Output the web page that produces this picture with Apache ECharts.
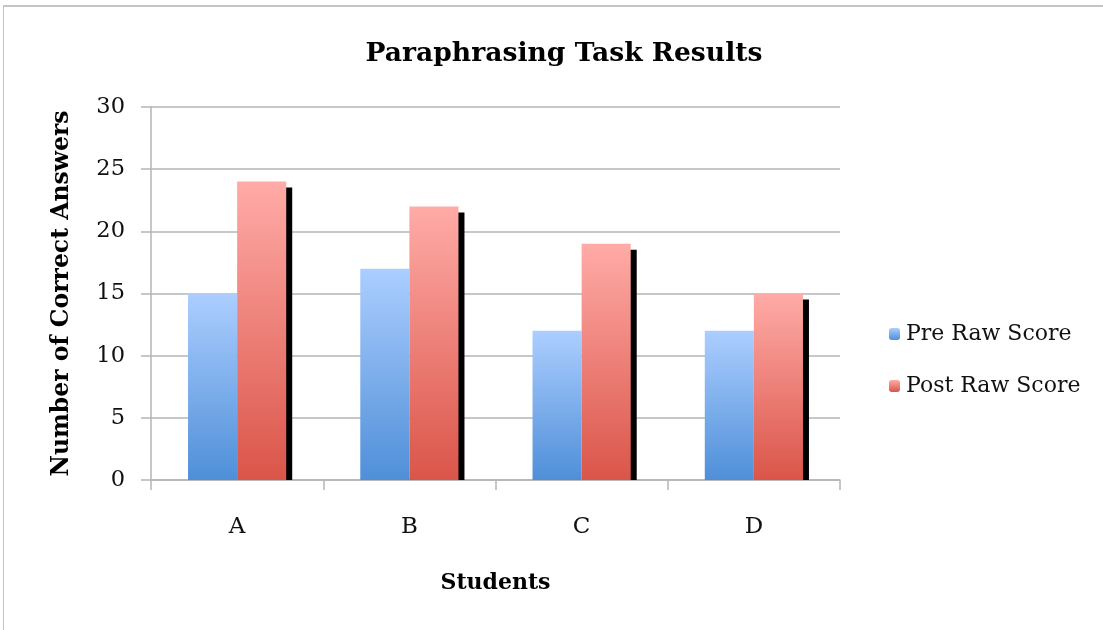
<!DOCTYPE html>
<html>
<head>
<meta charset="utf-8">
<script src="https://cdn.jsdelivr.net/npm/echarts@6/dist/echarts.min.js"></script>
<style>
  html, body { margin: 0; padding: 0; background: #fff; }
  #frame { position: absolute; left: 3px; top: 5px; width: 1100px; height: 625px;
           border-top: 2px solid #c4c4c4; border-left: 1px solid #c4c4c4; }
  #chart { position: absolute; left: 0; top: 0; width: 1103px; height: 630px; }
</style>
</head>
<body>
<div id="frame"></div>
<div id="chart"></div>
<script>
// Paraphrasing task: correct answers before and after, per student
const students = ['A', 'B', 'C', 'D'];
const preRawScore = [15, 17, 12, 12];
const postRawScore = [24, 22, 19, 15];
const yTicks = { min: 0, max: 30, interval: 5 };

const SERIF = '"DejaVu Serif", "Liberation Serif", serif';
const CAT_GAP = 0.43;     // share of each category left empty
const SHADOW_OFF = 6;     // drop shadow offset behind the post bars

const grad = (top, bottom) => new echarts.graphic.LinearGradient(0, 0, 0, 1, [
  { offset: 0, color: top },
  { offset: 1, color: bottom }
]);
const preFill = grad('#acceff', '#4f8fd8');
const postFill = grad('#ffaba7', '#da5549');

const chart = echarts.init(document.getElementById('chart'), null, { renderer: 'canvas' });

chart.setOption({
  backgroundColor: 'transparent',
  animation: false,
  title: {
    text: 'Paraphrasing Task Results',
    left: 559,
    textAlign: 'center',
    top: 36,
    textStyle: { fontFamily: SERIF, fontWeight: 'bold', fontSize: 26.6, color: '#000' }
  },
  legend: {
    orient: 'vertical',
    left: 884,
    top: 318,
    itemGap: 30,
    itemWidth: 11,
    itemHeight: 12,
    data: ['Pre Raw Score', 'Post Raw Score'],
    textStyle: { fontFamily: SERIF, fontSize: 22, color: '#111', padding: [0, 0, 0, 1] }
  },
  grid: { left: 151, right: 263, top: 107, bottom: 150, containLabel: false },
  xAxis: {
    type: 'category',
    data: students,
    name: 'Students',
    nameLocation: 'middle',
    nameGap: 92,
    nameTextStyle: { fontFamily: SERIF, fontWeight: 'bold', fontSize: 22, color: '#000' },
    axisLine: { lineStyle: { color: '#b5b5b5', width: 1.5 } },
    axisTick: { show: true, alignWithLabel: false, length: 10, lineStyle: { color: '#b5b5b5', width: 1.5 } },
    axisLabel: { fontFamily: SERIF, fontSize: 23, color: '#111', margin: 36 }
  },
  yAxis: {
    type: 'value',
    min: yTicks.min,
    max: yTicks.max,
    interval: yTicks.interval,
    name: 'Number of Correct Answers',
    nameLocation: 'middle',
    nameGap: 77,
    nameRotate: 90,
    nameTextStyle: { fontFamily: SERIF, fontWeight: 'bold', fontSize: 23.5, color: '#000' },
    axisLine: { show: true, lineStyle: { color: '#b5b5b5', width: 1.5 } },
    axisTick: { show: true, length: 10, lineStyle: { color: '#b5b5b5', width: 1.5 } },
    axisLabel: { fontFamily: SERIF, fontSize: 22.5, color: '#111', margin: 26 },
    splitLine: { lineStyle: { color: '#b5b5b5', width: 1.5 } }
  },
  series: [
    {
      // black drop shadow behind each post bar
      name: 'post-shadow',
      type: 'custom',
      z: 1,
      silent: true,
      data: postRawScore.map((v, i) => [i, v]),
      encode: { x: 0, y: 1 },
      renderItem: (params, api) => {
        const idx = api.value(0);
        const val = api.value(1);
        const base = api.coord([idx, 0]);
        const top = api.coord([idx, val]);
        const band = api.size([1, 0])[0];
        const bw = band * (1 - CAT_GAP) / 2;
        return {
          type: 'rect',
          shape: {
            x: base[0] + SHADOW_OFF,
            y: top[1] + SHADOW_OFF,
            width: bw,
            height: base[1] - top[1] - SHADOW_OFF
          },
          style: { fill: '#000' }
        };
      }
    },
    {
      name: 'Pre Raw Score',
      type: 'bar',
      z: 2,
      data: preRawScore,
      barGap: '0%',
      barCategoryGap: (CAT_GAP * 100) + '%',
      itemStyle: { color: preFill }
    },
    {
      name: 'Post Raw Score',
      type: 'bar',
      z: 2,
      data: postRawScore,
      barGap: '0%',
      barCategoryGap: (CAT_GAP * 100) + '%',
      itemStyle: { color: postFill }
    }
  ]
});
</script>
</body>
</html>
